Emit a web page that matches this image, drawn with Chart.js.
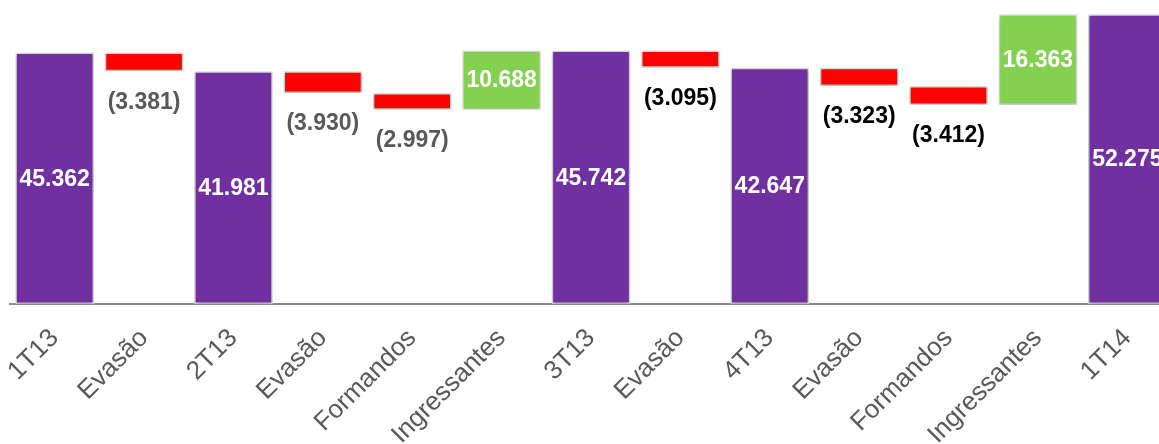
<!DOCTYPE html>
<html>
<head>
<meta charset="utf-8">
<script src="https://cdn.jsdelivr.net/npm/chart.js@4.4.1/dist/chart.umd.min.js"></script>
<style>
    html, body { margin: 0; padding: 0; background: #fff; overflow: hidden; }
    #wrap { width: 1175px; height: 444px; position: relative; }
</style>
</head>
<body>
<div id="wrap"><canvas id="chart"></canvas></div>
<script>
// categories and values (change per step; totals are the full stock)
const categories = ["1T13", "Evasão", "2T13", "Evasão", "Formandos", "Ingressantes",
                    "3T13", "Evasão", "4T13", "Evasão", "Formandos", "Ingressantes", "1T14"];
const values = [45.362, -3.381, 41.981, -3.930, -2.997, 10.688,
                45.742, -3.095, 42.647, -3.323, -3.412, 16.363, 52.275];
const kinds = ["total", "down", "total", "down", "down", "up",
               "total", "down", "total", "down", "down", "up", "total"];
const valueLabels = ["45.362", "(3.381)", "41.981", "(3.930)", "(2.997)", "10.688",
                     "45.742", "(3.095)", "42.647", "(3.323)", "(3.412)", "16.363", "52.275"];

const kindColors = { total: "#7030A0", down: "#FF0000", up: "#84D152" };
const downLabelColors = ["#595959", "#595959", "#595959", "#000", "#000", "#000", "#000"];

document.addEventListener("DOMContentLoaded", () => {
    // build floating bars from the running total
    let running = 0;
    const floating = values.map((v, i) => {
        if (kinds[i] === "total") {
            running = v;
            return [0, v];
        }
        const start = running;
        running = start + v;
        return [Math.min(start, running), Math.max(start, running)];
    });

    const shadowPlugin = {
        id: "shadow",
        beforeDatasetsDraw(chart) {
            const ctx = chart.ctx;
            ctx.save();
            ctx.shadowColor = "rgba(0,0,0,0.28)";
            ctx.shadowBlur = 4;
            ctx.shadowOffsetX = 0;
            ctx.shadowOffsetY = 1;
        },
        afterDatasetsDraw(chart) {
            chart.ctx.restore();
        }
    };

    const labelPlugin = {
        id: "valueLabels",
        afterDatasetsDraw(chart) {
            const ctx = chart.ctx;
            const meta = chart.getDatasetMeta(0);
            let downIdx = 0;
            ctx.save();
            ctx.font = "bold 23px 'Liberation Sans', Arial, sans-serif";
            ctx.textAlign = "center";
            ctx.textBaseline = "middle";
            meta.data.forEach((bar, i) => {
                const top = Math.min(bar.y, bar.base);
                const bottom = Math.max(bar.y, bar.base);
                if (kinds[i] === "down") {
                    ctx.fillStyle = downLabelColors[downIdx++];
                    ctx.fillText(valueLabels[i], bar.x, bottom + 31);
                } else {
                    ctx.fillStyle = "#fff";
                    ctx.fillText(valueLabels[i], bar.x, (top + bottom) / 2 + 1);
                }
            });
            ctx.restore();
        }
    };

    new Chart(document.getElementById("chart").getContext("2d"), {
        type: "bar",
        data: {
            labels: categories,
            datasets: [{
                data: floating,
                backgroundColor: kinds.map(k => kindColors[k]),
                borderColor: "rgba(225,225,225,0.9)",
                borderWidth: 1.5,
                borderSkipped: false,
                barPercentage: 0.88,
                categoryPercentage: 1
            }]
        },
        options: {
            responsive: true,
            maintainAspectRatio: false,
            animation: false,
            layout: { padding: { left: 10, right: 3, top: 0, bottom: 0 } },
            plugins: { legend: { display: false }, tooltip: { enabled: false } },
            scales: {
                x: {
                    grid: { display: false, drawTicks: false },
                    border: { color: "#8c8c8c", width: 2 },
                    ticks: {
                        color: "#595959",
                        font: { size: 26, family: "'Liberation Sans', Arial, sans-serif" },
                        minRotation: 45,
                        maxRotation: 45,
                        autoSkip: false,
                        padding: 19
                    },
                    afterFit(scale) {
                        scale.height = 140;
                        scale.paddingLeft = 0;
                        scale.paddingRight = 0;
                    }
                },
                y: {
                    display: false,
                    min: 0,
                    max: 54.85
                }
            }
        },
        plugins: [shadowPlugin, labelPlugin]
    });
});
</script>
</body>
</html>
